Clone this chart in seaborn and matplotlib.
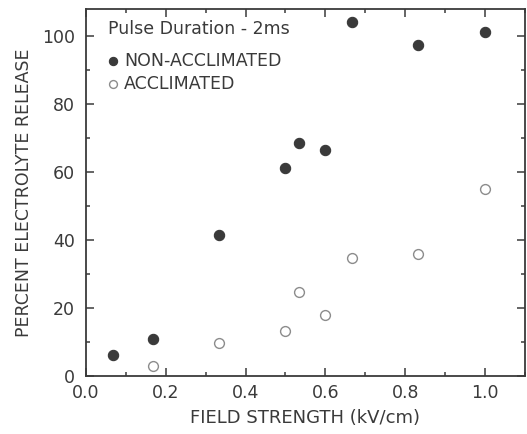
import matplotlib
matplotlib.use("Agg")
import matplotlib.pyplot as plt
import seaborn as sns
import pandas as pd
from matplotlib.ticker import MultipleLocator

# -------- data --------
FIELD_NON = [0.067, 0.167, 0.333, 0.5, 0.533, 0.6, 0.667, 0.833, 1.0]
RELEASE_NON = [6.0, 10.8, 41.5, 61.3, 68.7, 66.4, 104.3, 97.3, 101.4]

FIELD_ACC = [0.167, 0.333, 0.5, 0.533, 0.6, 0.667, 0.833, 1.0]
RELEASE_ACC = [2.9, 9.6, 13.1, 24.6, 18.0, 34.8, 35.8, 55.0]

GROUPS = ["NON-ACCLIMATED", "ACCLIMATED"]
X_TICKS = [0.0, 0.2, 0.4, 0.6, 0.8, 1.0]
Y_TICKS = [0, 20, 40, 60, 80, 100]

INK = "#3a3a3a"
OPEN = "#8c8c8c"

df = pd.concat([
    pd.DataFrame({"field": FIELD_NON, "release": RELEASE_NON, "group": GROUPS[0]}),
    pd.DataFrame({"field": FIELD_ACC, "release": RELEASE_ACC, "group": GROUPS[1]}),
])

sns.set_style("ticks")
plt.rcParams["font.family"] = ["DejaVu Sans"]
plt.rcParams["text.color"] = INK
plt.rcParams["axes.labelcolor"] = INK
plt.rcParams["xtick.color"] = INK
plt.rcParams["ytick.color"] = INK

fig = plt.figure(figsize=(5.27, 4.34), dpi=100)
ax = fig.add_axes([0.163, 0.134, 0.833, 0.845])

sns.scatterplot(data=df[df["group"] == GROUPS[0]], x="field", y="release",
                color=INK, edgecolor=INK, s=55, linewidth=0.8, ax=ax,
                label=GROUPS[0])
sns.scatterplot(data=df[df["group"] == GROUPS[1]], x="field", y="release",
                facecolor="white", edgecolor=OPEN, s=50, linewidth=1.0, ax=ax,
                label=GROUPS[1])

ax.set_xlim(0.0, 1.1)
ax.set_ylim(0, 108)
ax.set_xticks(X_TICKS)
ax.set_xticklabels([f"{v:.1f}" for v in X_TICKS])
ax.set_yticks(Y_TICKS)
ax.xaxis.set_minor_locator(MultipleLocator(0.1))
ax.yaxis.set_minor_locator(MultipleLocator(10))
ax.tick_params(which="both", direction="in", top=True, right=True,
               labelsize=12.5, width=1.1)
ax.tick_params(which="major", length=6)
ax.tick_params(which="minor", length=3)
ax.tick_params(axis="x", which="major", pad=6)
ax.tick_params(axis="y", which="major", pad=8)
for sp in ax.spines.values():
    sp.set_color(INK)
    sp.set_linewidth(1.3)

ax.set_xlabel("FIELD STRENGTH (kV/cm)", fontsize=13, labelpad=5)
ax.set_ylabel("PERCENT ELECTROLYTE RELEASE", fontsize=12.5, labelpad=6)

# legend title sits a bit apart from the entries in the original
ax.text(0.05, 0.945, "Pulse Duration - 2ms", transform=ax.transAxes,
        fontsize=12.5, ha="left", va="center")
ax.legend(loc="upper left", bbox_to_anchor=(0.022, 0.903), frameon=False,
          fontsize=12.5, handletextpad=0.05, labelspacing=0.3,
          borderaxespad=0.0, markerscale=0.8, handlelength=1.2)

fig.savefig("out.png", dpi=100)
